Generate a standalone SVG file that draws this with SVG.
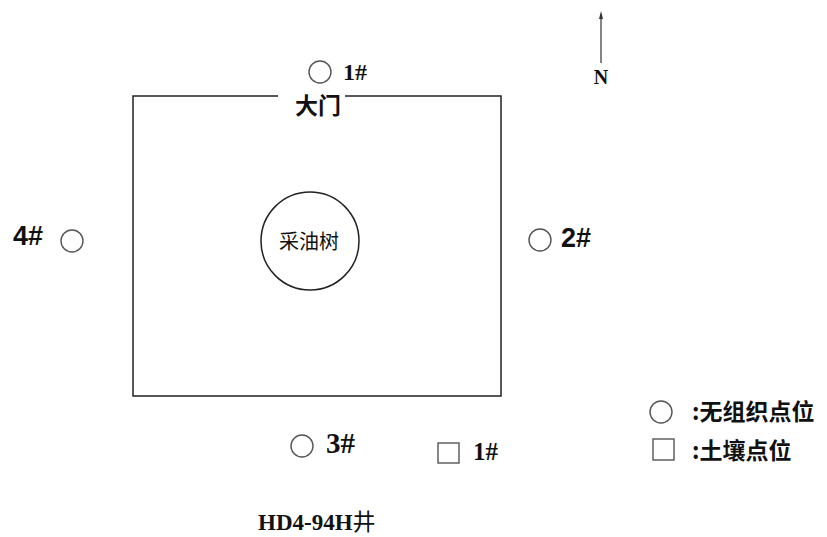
<svg xmlns="http://www.w3.org/2000/svg" width="827" height="537" viewBox="0 0 827 537">
<style>
.ln{fill:none;stroke:#222;stroke-width:1.5}
.pt{fill:none;stroke:#555;stroke-width:1.4}
.serif{font-family:"Liberation Serif","Noto Sans CJK SC",serif;font-weight:bold;fill:#111}
.bold{font-family:"Liberation Sans","Noto Sans CJK SC",sans-serif;font-weight:bold;fill:#111}
.cjk{font-family:"Noto Sans CJK SC",sans-serif;fill:#111}
</style>
<rect width="827" height="537" fill="#fff"/>
<g id="site">
<path class="ln" d="M278,96 H133 V396 H501 V96 H345"/>
<text class="cjk" x="318" y="114" font-size="23" font-weight="bold" text-anchor="middle">大门</text>
</g>
<g id="wellhead">
<circle class="ln" cx="310" cy="241" r="49" stroke-width="1.2"/>
<text class="cjk" x="309" y="249" font-size="20" text-anchor="middle">采油树</text>
</g>
<g id="north">
<line x1="601" y1="14" x2="601" y2="63" stroke="#333" stroke-width="1.2"/>
<path d="M601,11 L599,19 L603,19 Z" fill="#333"/>
<text class="serif" x="601" y="84" font-size="20" text-anchor="middle">N</text>
</g>
<g id="p1">
<circle class="pt" cx="320" cy="72" r="11"/>
<text class="serif" x="343" y="80" font-size="24">1#</text>
</g>
<g id="p2">
<circle class="pt" cx="540" cy="240" r="11"/>
<text class="bold" x="561" y="247" font-size="27">2#</text>
</g>
<g id="p3">
<circle class="pt" cx="302" cy="446" r="11"/>
<text class="serif" x="326" y="453" font-size="29">3#</text>
</g>
<g id="p4">
<circle class="pt" cx="72" cy="241" r="11"/>
<text class="bold" x="13" y="245" font-size="27">4#</text>
</g>
<g id="s1">
<rect class="pt" x="438" y="443" width="21" height="20"/>
<text class="serif" x="473" y="460" font-size="25">1#</text>
</g>
<g id="legend">
<circle class="pt" cx="661" cy="412" r="11"/>
<text class="cjk" x="692" y="420" font-size="23" font-weight="bold">:无组织点位</text>
<rect class="pt" x="653" y="439" width="21" height="21"/>
<text class="cjk" x="692" y="459" font-size="23" font-weight="bold">:土壤点位</text>
</g>
<g id="title">
<text class="serif" x="258" y="530" font-size="23">HD4-94H<tspan font-family="Noto Sans CJK SC,sans-serif" font-weight="normal" font-size="23">井</tspan></text>
</g>
<g id="connectors"></g>
</svg>
